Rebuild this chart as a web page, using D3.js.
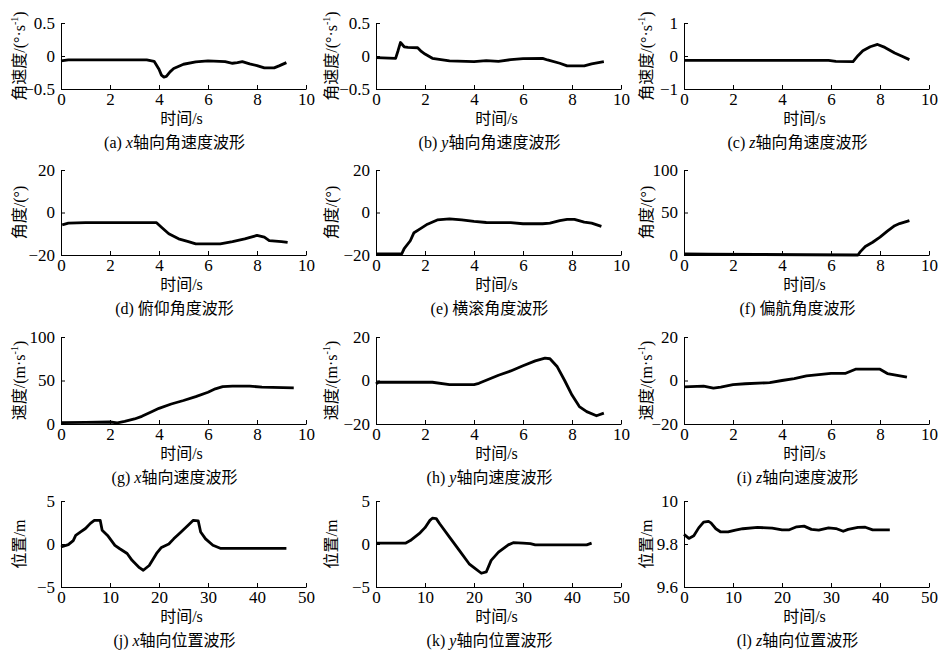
<!DOCTYPE html>
<html lang="zh">
<head>
<meta charset="UTF-8">
<title>波形</title>
<style>
  body { margin: 0; background: #fff; }
  text { fill: #000; }
</style>
</head>
<body>
<svg id="chart" width="945" height="654"></svg>
<script src="https://cdn.jsdelivr.net/npm/d3@7"></script>
<script>
// ---- data ----
const xTicks10 = [0, 2, 4, 6, 8, 10]
const xTicks50 = [0, 10, 20, 30, 40, 50]

const aT = [0, 0.3, 1, 2, 3, 3.5, 3.8, 4.0, 4.1, 4.2, 4.3, 4.45, 4.6, 5, 5.5, 6, 6.7, 7, 7.2, 7.4, 7.7, 8, 8.3, 8.7, 8.9, 9.2]
const aV = [-0.075, -0.06, -0.06, -0.06, -0.06, -0.06, -0.08, -0.2, -0.29, -0.32, -0.31, -0.24, -0.19, -0.125, -0.09, -0.075, -0.085, -0.11, -0.1, -0.085, -0.12, -0.145, -0.18, -0.18, -0.15, -0.1]

const bT = [0, 0.8, 0.9, 1.0, 1.15, 1.3, 1.7, 1.85, 2, 2.3, 3, 4, 4.5, 5, 5.5, 6, 6.8, 7, 7.5, 7.8, 8.5, 8.8, 9.3]
const bV = [-0.025, -0.035, 0.08, 0.205, 0.14, 0.13, 0.125, 0.07, 0.03, -0.035, -0.075, -0.085, -0.07, -0.08, -0.055, -0.04, -0.035, -0.06, -0.11, -0.15, -0.15, -0.12, -0.085]

const cT = [0, 2, 4, 5.9, 6.2, 6.9, 7.1, 7.3, 7.6, 7.9, 8.2, 8.6, 8.9, 9.2]
const cV = [-0.13, -0.13, -0.13, -0.13, -0.16, -0.17, 0.01, 0.16, 0.28, 0.35, 0.26, 0.09, -0.01, -0.11]

const dT = [0.05, 0.3, 1, 2, 3, 3.9, 4.1, 4.4, 4.8, 5.2, 5.5, 6.5, 7, 7.5, 8, 8.3, 8.5, 9, 9.25]
const dV = [-5.8, -5, -4.8, -4.8, -4.8, -4.8, -6.9, -10, -12.4, -13.7, -14.8, -14.8, -13.7, -12.4, -10.8, -11.6, -13.2, -13.7, -14.1]

const eT = [0, 0.5, 1.05, 1.15, 1.4, 1.55, 1.8, 2.1, 2.5, 3, 3.5, 4, 4.5, 5, 5.5, 6, 6.8, 7.1, 7.5, 7.8, 8.1, 8.5, 8.8, 9.2]
const eV = [-19.5, -19.5, -19.5, -17, -13.3, -9.5, -7.7, -5.5, -3.5, -3, -3.5, -4.2, -4.7, -4.8, -4.8, -5.3, -5.3, -5, -3.8, -3.2, -3.2, -4.5, -5, -6.5]

const fT = [0, 1, 3, 5, 7.1, 7.2, 7.4, 7.7, 8, 8.3, 8.6, 8.8, 9.2]
const fV = [1.2, 1, 0.6, 0.3, 0, 4, 10, 15, 21, 28, 34.5, 37, 40.5]

const gT = [0, 1, 2, 2.3, 2.6, 3, 3.3, 3.7, 4, 4.5, 5, 5.5, 6, 6.3, 6.6, 7, 7.7, 8.2, 9.5]
const gV = [1.5, 1.9, 2.3, 1.2, 3, 5.8, 8.8, 14, 18, 23, 27, 31.5, 36.5, 40.4, 43, 43.5, 43.5, 42.3, 41.5]

const hT = [0, 0.1, 1, 2.3, 3, 4, 4.2, 5, 5.5, 6, 6.5, 6.9, 7.1, 7.4, 7.7, 8, 8.3, 8.6, 9, 9.3]
const hV = [-1.6, -0.8, -0.8, -0.8, -1.9, -1.9, -1.3, 2.4, 4.4, 6.8, 9, 10.3, 10, 6.3, 0, -6.7, -12, -14.3, -16.2, -15]

const iT = [0, 0.8, 1.2, 1.5, 2, 2.5, 3.5, 4, 4.5, 5, 5.5, 6, 6.6, 7, 7.5, 8, 8.3, 8.7, 9.1]
const iV = [-2.9, -2.6, -3.5, -3, -1.9, -1.5, -1, 0, 0.9, 2.1, 2.7, 3.3, 3.3, 5.2, 5.2, 5.2, 3.2, 2.4, 1.5]

const jT = [0, 1.5, 2.5, 3, 4, 5, 6, 6.8, 8, 8.4, 9.5, 11, 12, 13.5, 14.5, 16, 16.8, 18, 19.5, 20.5, 22, 23, 24.5, 26, 27, 28, 28.5, 29.5, 31, 32.5, 40, 46]
const jV = [-0.35, -0.08, 0.4, 1, 1.4, 1.8, 2.4, 2.75, 2.75, 1.6, 1, -0.15, -0.55, -1.1, -1.9, -2.75, -3.05, -2.5, -1.1, -0.4, 0, 0.6, 1.4, 2.2, 2.75, 2.7, 1.4, 0.6, -0.15, -0.5, -0.5, -0.5]

const kT = [0, 6, 7, 9, 10, 11, 11.5, 12.3, 13, 15, 17, 19, 20, 21.5, 22.5, 23.5, 25, 27, 28, 30, 31.5, 32.5, 43, 44]
const kV = [0.1, 0.1, 0.4, 1.3, 1.9, 2.75, 3, 2.95, 2.35, 0.8, -0.75, -2.3, -2.75, -3.4, -3.25, -1.9, -0.95, -0.1, 0.15, 0.1, 0.05, -0.1, -0.1, 0.1]

const lT = [0, 1, 2, 3, 4, 5, 5.5, 6.5, 7.5, 9, 10.5, 12, 15, 18, 20, 21.5, 23, 24.5, 26, 27.5, 29.5, 31, 32.5, 33.5, 35.5, 37, 38.5, 40, 42]
const lV = [9.845, 9.826, 9.838, 9.875, 9.902, 9.905, 9.898, 9.871, 9.856, 9.856, 9.865, 9.871, 9.877, 9.874, 9.866, 9.866, 9.88, 9.883, 9.868, 9.865, 9.875, 9.872, 9.859, 9.868, 9.877, 9.878, 9.866, 9.866, 9.866]

// axis labels
const yLabAngVel = ["角速度/(°·s", "-1", ")"]
const yLabAngle = ["角度/(°)"]
const yLabVel = ["速度/(m·s", "-1", ")"]
const yLabPos = ["位置/m"]

const panels = [
  {t: aT, v: aV, xt: xTicks10, yt: [-0.5, 0, 0.5], yl: yLabAngVel, cap: ["(a) ", "x", "轴向角速度波形"]},
  {t: bT, v: bV, xt: xTicks10, yt: [-0.5, 0, 0.5], yl: yLabAngVel, cap: ["(b) ", "y", "轴向角速度波形"]},
  {t: cT, v: cV, xt: xTicks10, yt: [-1, 0, 1], yl: yLabAngVel, cap: ["(c) ", "z", "轴向角速度波形"]},
  {t: dT, v: dV, xt: xTicks10, yt: [-20, 0, 20], yl: yLabAngle, cap: ["(d) 俯仰角度波形"]},
  {t: eT, v: eV, xt: xTicks10, yt: [-20, 0, 20], yl: yLabAngle, cap: ["(e) 横滚角度波形"]},
  {t: fT, v: fV, xt: xTicks10, yt: [0, 50, 100], yl: yLabAngle, cap: ["(f) 偏航角度波形"]},
  {t: gT, v: gV, xt: xTicks10, yt: [0, 50, 100], yl: yLabVel, cap: ["(g) ", "x", "轴向速度波形"]},
  {t: hT, v: hV, xt: xTicks10, yt: [-20, 0, 20], yl: yLabVel, cap: ["(h) ", "y", "轴向速度波形"]},
  {t: iT, v: iV, xt: xTicks10, yt: [-20, 0, 20], yl: yLabVel, cap: ["(i) ", "z", "轴向速度波形"]},
  {t: jT, v: jV, xt: xTicks50, yt: [-5, 0, 5], yl: yLabPos, cap: ["(j) ", "x", "轴向位置波形"]},
  {t: kT, v: kV, xt: xTicks50, yt: [-5, 0, 5], yl: yLabPos, cap: ["(k) ", "y", "轴向位置波形"]},
  {t: lT, v: lV, xt: xTicks50, yt: [9.6, 9.8, 10], yl: yLabPos, cap: ["(l) ", "z", "轴向位置波形"]}
]

// ---- layout ----
const colLeft = [61, 376, 684]
const plotW = 245
const rowBox = [[23, 89], [170, 255], [337, 424], [501, 587]]
const yLabOff = [-42, -45, -38]
const FONT = "'Liberation Serif', 'Noto Sans CJK SC', serif"

const svg = d3.select("#chart").attr("font-family", FONT)

panels.forEach((p, i) => {
  let col = i % 3, row = Math.floor(i / 3)
  let left = colLeft[col], top = rowBox[row][0], bottom = rowBox[row][1]
  let g = svg.append("g").attr("transform", `translate(${left},0)`)

  let x = d3.scaleLinear().domain([p.xt[0], p.xt[p.xt.length - 1]]).range([0, plotW])
  let y = d3.scaleLinear().domain([p.yt[0], p.yt[p.yt.length - 1]]).range([bottom, top])
  let fmt = d3.format("~g")

  let xa = g.append("g").attr("transform", `translate(0,${bottom})`)
    .call(d3.axisBottom(x).tickValues(p.xt).tickFormat(fmt).tickSizeInner(-4).tickSizeOuter(0).tickPadding(4))
  let ya = g.append("g")
    .call(d3.axisLeft(y).tickValues(p.yt).tickFormat(fmt).tickSizeInner(-4).tickSizeOuter(0).tickPadding(6))
  ;[xa, ya].forEach(a => {
    a.attr("font-family", FONT).attr("font-size", 17)
    a.selectAll("path, line").attr("stroke", "#000")
  })

  let line = d3.line().x((d, k) => x(p.t[k])).y(d => y(d))
  g.append("path").datum(p.v)
    .attr("d", line)
    .attr("fill", "none")
    .attr("stroke", "#000")
    .attr("stroke-width", 2.8)
    .attr("stroke-linejoin", "round")

  // x axis title
  g.append("text").attr("x", plotW / 2 - 2).attr("y", bottom + 35)
    .attr("text-anchor", "middle").attr("font-size", 16).text("时间/s")

  // y axis title
  let yl = g.append("text")
    .attr("transform", `translate(${yLabOff[col]},${(top + bottom) / 2}) rotate(-90)`)
    .attr("text-anchor", "middle").attr("dy", "0.35em").attr("font-size", 16)
  yl.append("tspan").text(p.yl[0])
  if (p.yl.length > 1) {
    yl.append("tspan").attr("font-size", 10).attr("dy", "-0.7em").text(p.yl[1])
    yl.append("tspan").attr("dy", "0.45em").text(p.yl[2])
  }

  // caption
  let cap = g.append("text").attr("x", plotW / 2 - 9).attr("y", bottom + 59)
    .attr("text-anchor", "middle").attr("font-size", 16)
  cap.append("tspan").text(p.cap[0])
  if (p.cap.length > 1) {
    cap.append("tspan").attr("font-style", "italic").text(p.cap[1])
    cap.append("tspan").text(p.cap[2])
  }
})
</script>
</body>
</html>
